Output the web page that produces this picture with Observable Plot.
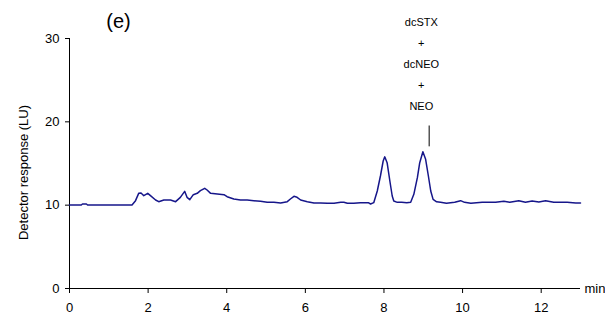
<!DOCTYPE html>
<html>
<head>
<meta charset="utf-8">
<script src="https://cdn.jsdelivr.net/npm/d3@7"></script>
<script src="https://cdn.jsdelivr.net/npm/@observablehq/plot@0.6"></script>
<style>
  html, body { margin: 0; padding: 0; background: #fff; }
  #chart { width: 605px; height: 320px; }
</style>
</head>
<body>
<div id="chart"></div>
<script>
// Retention time (min)
const time = [
  0.00, 0.30, 0.33, 0.43, 0.46, 1.59, 1.68, 1.76, 1.82, 1.89, 1.99, 2.06, 2.19, 2.27, 2.40,
  2.57, 2.70, 2.82, 2.93, 2.99, 3.06, 3.15, 3.25, 3.33, 3.44, 3.50, 3.59, 3.76, 3.93, 4.01,
  4.18, 4.35, 4.52, 4.69, 4.86, 5.03, 5.20, 5.37, 5.54, 5.62, 5.71, 5.79, 5.88, 6.05, 6.22,
  6.39, 6.56, 6.73, 6.90, 6.98, 7.07, 7.23, 7.40, 7.50, 7.60, 7.66, 7.74,
  7.83, 7.91, 7.98, 8.02, 8.08, 8.15, 8.21, 8.25, 8.34, 8.45, 8.58, 8.68,
  8.76, 8.85, 8.91, 8.99, 9.06, 9.13, 9.19, 9.25, 9.34, 9.44, 9.59, 9.80, 9.95, 10.05,
  10.21, 10.50, 10.84, 11.05, 11.20, 11.43, 11.60, 11.77, 11.94, 12.11, 12.32, 12.66, 12.88, 13.00
];
// Detector response (LU)
const response = [
  10.02, 10.02, 10.14, 10.14, 10.02, 10.02, 10.54, 11.42, 11.46, 11.14, 11.42, 11.14, 10.62, 10.42, 10.62,
  10.62, 10.42, 10.94, 11.66, 10.94, 10.66, 11.26, 11.42, 11.74, 12.02, 11.82, 11.42, 11.34, 11.26, 11.02,
  10.74, 10.62, 10.62, 10.54, 10.46, 10.34, 10.34, 10.26, 10.42, 10.74, 11.06, 10.94, 10.62, 10.42, 10.26,
  10.26, 10.22, 10.22, 10.34, 10.34, 10.22, 10.22, 10.30, 10.30, 10.30, 10.14, 10.30,
  11.70, 13.50, 15.30, 15.80, 15.10, 12.90, 11.10, 10.50, 10.34, 10.34, 10.30, 10.34,
  11.30, 13.30, 15.10, 16.40, 15.50, 13.50, 11.70, 10.70, 10.40, 10.34, 10.22, 10.34, 10.54, 10.34,
  10.22, 10.34, 10.34, 10.46, 10.34, 10.54, 10.34, 10.50, 10.38, 10.54, 10.34, 10.34, 10.26, 10.26
];
const xTicks = [0, 2, 4, 6, 8, 10, 12];
const yTicks = [0, 10, 20, 30];
const panelLabel = "(e)";
const yLabel = "Detector response (LU)";
const xUnit = "min";
const peakLabel = "dcSTX\n+\ndcNEO\n+\nNEO";
const peakLabelX = [8.95];
const peakMarker = [{x: 9.15, y1: 17.0, y2: 19.5}];

const rows = time.map((t, i) => ({t, r: response[i]}));
const font = "'Liberation Sans', Arial, Helvetica, sans-serif";

const chart = Plot.plot({
  width: 605,
  height: 320,
  marginLeft: 69,
  marginRight: 25,
  marginTop: 38,
  marginBottom: 32,
  style: {fontFamily: font, fontSize: "13px", color: "#000", background: "#fff"},
  x: {domain: [0, 13]},
  y: {domain: [0, 30]},
  marks: [
    Plot.axisX({ticks: xTicks, tickSize: 5, tickPadding: 9, label: null, fontSize: 13}),
    Plot.axisY({ticks: yTicks, tickSize: 4, tickPadding: 6, label: null, fontSize: 13}),
    Plot.ruleY([0], {stroke: "#000", strokeWidth: 1}),
    Plot.ruleX([0], {stroke: "#000", strokeWidth: 1}),
    Plot.line(rows, {x: "t", y: "r", stroke: "#16168a", strokeWidth: 1.5}),
    Plot.ruleX(peakMarker, {x: "x", y1: "y1", y2: "y2", stroke: "#000", strokeWidth: 1}),
    Plot.text(peakLabelX, {x: d => d, frameAnchor: "top", lineAnchor: "top", dy: -28,
      text: () => peakLabel, fontSize: 11, lineHeight: 1.93, fill: "#000"}),
    Plot.text([panelLabel], {frameAnchor: "top-left", lineAnchor: "middle", dx: 49, dy: -17, text: d => d,
      fontSize: 20, fill: "#000", textAnchor: "middle"}),
    Plot.text([yLabel], {frameAnchor: "left", dx: -46, dy: 9, rotate: -90, text: d => d,
      fontSize: 13, fill: "#000", textAnchor: "middle"}),
    Plot.text([xUnit], {x: () => 13, y: () => 0, dx: 4, text: d => d, textAnchor: "start",
      fontSize: 13, fill: "#000"})
  ]
});
document.getElementById("chart").appendChild(chart);
</script>
</body>
</html>
